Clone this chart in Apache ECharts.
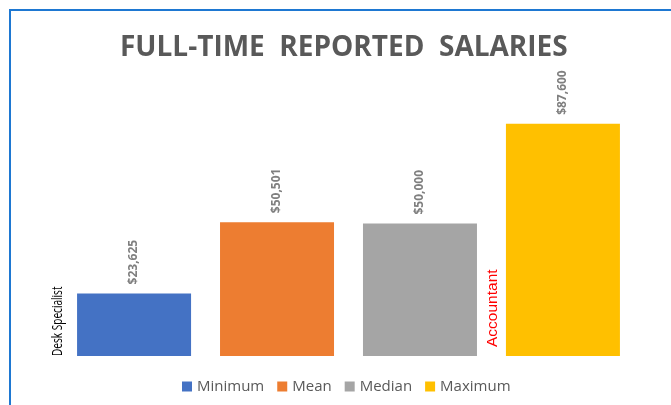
<!DOCTYPE html>
<html>
<head>
<meta charset="utf-8">
<script src="https://cdn.jsdelivr.net/npm/echarts@6/dist/echarts.min.js"></script>
<style>
  html, body { margin: 0; padding: 0; background: #fff; }
  #chart { width: 671px; height: 405px; }
</style>
</head>
<body>
<div id="chart"></div>
<script>
// Salary summary for full-time roles
const categories = ['Salaries'];
const seriesNames = ['Minimum', 'Mean', 'Median', 'Maximum'];
const seriesValues = [23625, 50501, 50000, 87600];
const seriesColors = ['#4472C4', '#ED7D31', '#A5A5A5', '#FFC000'];
// Job titles noted beside the lowest and highest bars
const noteTexts = ['Desk Specialist', 'Accountant'];
const noteSeries = [0, 3];

const fmt = v => '$' + v.toLocaleString('en-US');

const chart = echarts.init(document.getElementById('chart'), null, { renderer: 'canvas' });

const series = seriesNames.map((name, i) => ({
  name: name,
  type: 'bar',
  data: [seriesValues[i]],
  barWidth: 114,
  barGap: '25.4%',
  itemStyle: { color: seriesColors[i] },
  label: {
    show: true,
    position: 'top',
    rotate: 90,
    align: 'left',
    verticalAlign: 'middle',
    distance: 9,
    color: '#7F7F7F',
    fontFamily: 'Open Sans',
    fontWeight: 'bold',
    fontSize: 12,
    formatter: p => fmt(p.value)
  }
}));

chart.setOption({
  animation: false,
  title: {
    text: 'FULL-TIME  REPORTED  SALARIES',
    left: 115,
    top: 29,
    textStyle: {
      color: '#595959',
      fontFamily: 'Open Sans',
      fontWeight: 'bold',
      fontSize: 28
    }
  },
  legend: {
    bottom: 6,
    left: 177,
    itemWidth: 10,
    itemHeight: 10,
    itemGap: 13,
    icon: 'rect',
    textStyle: { color: '#595959', fontFamily: 'Open Sans', fontSize: 15 },
    data: seriesNames
  },
  grid: { left: 48, right: 22, top: 91, bottom: 49 },
  xAxis: {
    type: 'category',
    data: categories,
    axisLine: { show: false },
    axisTick: { show: false },
    axisLabel: { show: false }
  },
  yAxis: {
    type: 'value',
    min: 0,
    max: 100000,
    show: false,
    splitLine: { show: false }
  },
  series: series
});

// Frame plus job-title notes placed left of their bars through the chart's own layout
function placeNotes() {
  const elements = [
    {
      type: 'rect',
      shape: { x: 10, y: 10, width: 700, height: 450 },
      style: { fill: 'none', stroke: '#1E78D2', lineWidth: 2 },
      silent: true
    }
  ];
  noteSeries.forEach((si, k) => {
    const data = chart.getModel().getSeriesByIndex(si).getData();
    const layout = data.getItemLayout(0);
    const x = layout.x;
    const base = layout.y;
    elements.push({
      type: 'text',
      x: x - (k === 0 ? 19 : 13),
      y: base - (k === 0 ? 0 : 9),
      rotation: Math.PI / 2,
      scaleX: k === 0 ? 0.72 : 1,
      style: {
        text: noteTexts[k],
        fill: k === 0 ? '#000000' : '#FF0000',
        fontFamily: k === 0 ? 'Open Sans' : 'Liberation Sans',
        fontSize: k === 0 ? 14 : 15.5,
        align: 'left',
        verticalAlign: 'middle'
      },
      silent: true
    });
  });
  chart.setOption({ graphic: elements });
}
placeNotes();
</script>
</body>
</html>
